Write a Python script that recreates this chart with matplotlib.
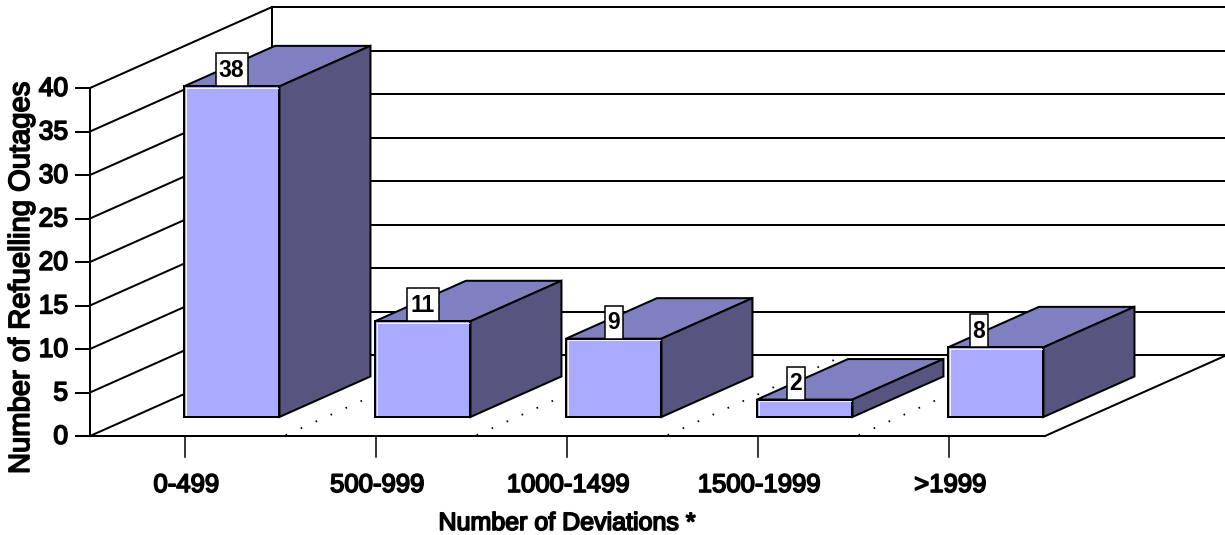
import matplotlib
matplotlib.use('Agg')
import matplotlib.pyplot as plt
import matplotlib.patheffects as pe
from matplotlib.patches import Polygon, Rectangle

categories = ['0-499', '500-999', '1000-1499', '1500-1999', '>1999']
outages = [38, 11, 9, 2, 8]
y_ticks = [0, 5, 10, 15, 20, 25, 30, 35, 40]

# oblique projection: one unit of depth moves this far right and up
DX = 182 / 191
DY = 81 / 8.7

# bar placement inside a category and inside the floor depth
BAR_LEFT = 0.268
BAR_WIDTH = 0.5
BAR_D0 = 0.235
BAR_D1 = 0.735
# labels don't sit quite centred on the shorter bars
label_shift = [0, 0, 0, -0.047, -0.09]

FRONT = '#AAAAFF'
TOP = '#8080C0'
SIDE = '#555580'
LW = 1.45

plt.rcParams['font.family'] = ['Liberation Sans', 'DejaVu Sans']
# heavy regular type
HEAVY = [pe.withStroke(linewidth=1.2, foreground='black')]


def proj(x, v, d=0):
    return x + d * DX, v + d * DY


def line3d(ax, a, b, **kw):
    x0, y0 = proj(*a)
    x1, y1 = proj(*b)
    kw.setdefault('color', 'black')
    kw.setdefault('lw', LW)
    kw.setdefault('zorder', 1)
    ax.plot([x0, x1], [y0, y1], solid_capstyle='projecting', **kw)


def face(ax, pts, color):
    ax.add_patch(Polygon([proj(*p) for p in pts], closed=True, facecolor=color,
                         edgecolor='black', lw=LW, joinstyle='miter', zorder=3))


def draw_bar(ax, i, v):
    l = i + BAR_LEFT
    r = l + BAR_WIDTH
    face(ax, [(l, v, BAR_D0), (r, v, BAR_D0), (r, v, BAR_D1), (l, v, BAR_D1)], TOP)
    face(ax, [(r, 0, BAR_D0), (r, 0, BAR_D1), (r, v, BAR_D1), (r, v, BAR_D0)], SIDE)
    face(ax, [(l, 0, BAR_D0), (r, 0, BAR_D0), (r, v, BAR_D0), (l, v, BAR_D0)], FRONT)
    # thin highlight just inside the front face
    x0, y0 = proj(l, 0, BAR_D0)
    x1, y1 = proj(r, v, BAR_D0)
    ix, iy = 1.6 / 191, 1.6 / 8.7
    ax.plot([x0 + ix, x0 + ix, x1 - ix], [y0 + iy, y1 - iy, y1 - iy],
            color='white', lw=0.6, zorder=4)


fig = plt.figure(figsize=(12.25, 5.35), dpi=100)
ax = fig.add_axes([0, 0, 1, 1])
ax.set_xlim(-90 / 191, 1135 / 191)
ax.set_ylim(-99 / 8.7, 436 / 8.7)
ax.axis('off')

n = len(categories)
top = y_ticks[-1]

# value lines on the side wall and back wall
for v in y_ticks:
    line3d(ax, (0, v, 0), (0, v, 1))
    x, y = proj(0, v, 1)
    ax.plot([x, ax.get_xlim()[1]], [y, y], color='black', lw=LW, zorder=1)
    ax.plot([-14 / 191, 0], [v, v], color='black', lw=LW, zorder=1)
    ax.text(-22 / 191, v - 0.1, str(v), ha='right', va='center', fontsize=19,
            path_effects=HEAVY, zorder=5)

line3d(ax, (0, 0, 0), (0, top, 0))
line3d(ax, (0, 0, 1), (0, top, 1))
line3d(ax, (0, 0, 0), (n, 0, 0))
line3d(ax, (n, 0, 0), (n, 0, 1))
ax.plot([-14 / 191, 0], [0, 0], color='black', lw=LW, zorder=1)

# dotted category dividers on the floor
for i in range(1, n):
    line3d(ax, (i + 0.015, 0, 0.01), (i, 0, 1), linestyle=(0, (0.9, 8.2)), lw=1.3,
           zorder=2)

for i, v in enumerate(outages):
    draw_bar(ax, i, v)

# category ticks and labels
for i, name in enumerate(categories):
    ax.plot([i + 0.5, i + 0.5], [0, -21 / 8.7], color='black', lw=1.1, zorder=1)
    ax.text(i + 0.505, -49 / 8.7, name, ha='center', va='center', fontsize=18.5,
            path_effects=HEAVY)

# value labels in small boxes resting on the bars' front edge
for i, v in enumerate(outages):
    cx = i + BAR_LEFT + BAR_WIDTH / 2 + BAR_D0 * DX + label_shift[i]
    base = v + BAR_D0 * DY
    s = str(v)
    w = (32 if len(s) > 1 else 18) / 191
    ax.add_patch(Rectangle((cx - w / 2, base), w, 33 / 8.7, facecolor='white',
                           edgecolor='black', lw=1.1, zorder=6))
    ax.text(cx, base + 16 / 8.7, s, ha='center', va='center', fontsize=16.5,
            fontweight='bold', zorder=7)

ax.text(21 / 191 - 90 / 191, 158 / 8.7, 'Number of Refuelling Outages', rotation=90,
        ha='center', va='center', fontsize=21, path_effects=HEAVY)
ax.text(477 / 191, -87 / 8.7, 'Number of Deviations *', ha='center', va='center',
        fontsize=18, path_effects=HEAVY)

fig.savefig('out.png', dpi=100)
